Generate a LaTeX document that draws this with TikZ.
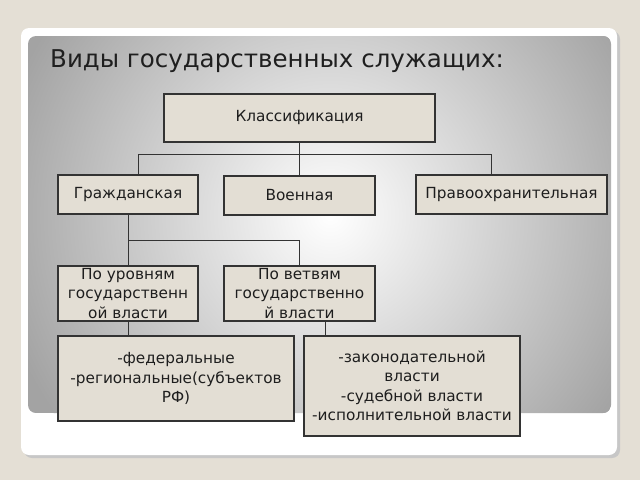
\documentclass[tikz,border=0pt]{standalone}
\usepackage{fontspec}
\setmainfont{DejaVu Sans}
\definecolor{bg}{HTML}{E4DFD5}
\definecolor{boxfill}{HTML}{E3DED4}
\definecolor{edge}{HTML}{333333}
\definecolor{txt}{HTML}{1E1E1E}
\definecolor{outergray}{HTML}{A3A3A3}
\begin{document}
\begin{tikzpicture}[x=1pt,y=-1pt,
  box/.style={draw=edge, line width=2.4pt, fill=boxfill, text=txt,
    font=\fontsize{15.3}{19.5}\selectfont, align=center, inner sep=0pt},
  link/.style={draw=edge, line width=0.9pt}]
\fill[bg] (0,0) rectangle (640,480);
\useasboundingbox (0,0) rectangle (640,480);
\fill[black!22, rounded corners=8pt] (24,31) rectangle (620,458);
\fill[white, rounded corners=8pt] (21,28) rectangle (617,455);
\begin{scope}
  \clip[rounded corners=8pt] (28,36) rectangle (611,413);
  \fill[outergray] (28,36) rectangle (611,413);
  \shade[inner color=white, outer color=outergray] (330,215) circle (340);
\end{scope}

\node[anchor=base west, inner sep=0pt, text=black!88,
  font=\fontsize{24.5}{28}\selectfont] (title) at (50,67)
  {Виды государственных служащих:};

\node[box, minimum width=271, minimum height=48] (cls) at (299.5,118) {Классификация};
\node[box, minimum width=140, minimum height=39] (civ) at (128,194.5) {Гражданская};
\node[box, minimum width=151, minimum height=39] (mil) at (299.5,195.5) {Военная};
\node[box, minimum width=191, minimum height=39] (law) at (511.5,194.5) {Правоохранительная};
\node[box, minimum width=140, minimum height=55] (lvl) at (128,293.5)
  {По уровням\\государственн\\ой власти};
\node[box, minimum width=151, minimum height=55] (br) at (299.5,293.5)
  {По ветвям\\государственно\\й власти};
\node[box, minimum width=236, minimum height=85] (fed) at (176,378.5)
  {-федеральные\\-региональные(субъектов\\РФ)};
\node[box, minimum width=216, minimum height=100] (leg) at (412,386)
  {-законодательной\\власти\\-судебной власти\\-исполнительной власти};

\coordinate (barL) at (138,154);
\coordinate (barR) at (491,154);
\coordinate (j2) at (128,240);
\draw[link] (cls.south) -- (mil.north);
\draw[link] (barL |- civ.north) -- (barL) -- (barR) -- (barR |- law.north);
\draw[link] (civ.south) -- (lvl.north);
\draw[link] (j2) -| (br.north);
\draw[link] (lvl.south) -- (lvl.south |- fed.north);
\coordinate (brb) at (325,0);
\draw[link] (brb |- br.south) -- (brb |- leg.north);
\end{tikzpicture}
\end{document}
